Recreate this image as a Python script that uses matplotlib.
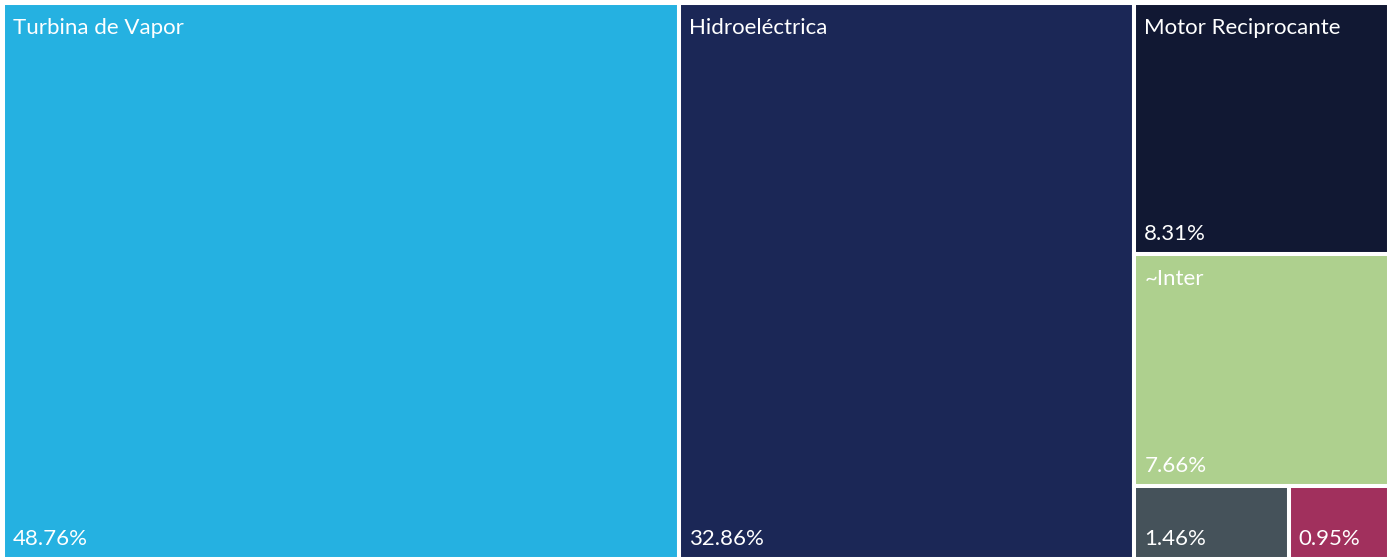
import matplotlib

matplotlib.use("Agg")

import matplotlib.pyplot as plt
from matplotlib.patches import Rectangle


LABELS = [
    "Turbina de Vapor",
    "Hidroeléctrica",
    "Motor Reciprocante",
    "~Inter",
    "",
    "",
]
SHARES = [48.76, 32.86, 8.31, 7.66, 1.46, 0.95]
COLORS = ["#25b1e1", "#1b2756", "#111833", "#aed08e", "#45525a", "#a1305d"]

FIG_W, FIG_H = 1390, 559
DPI = 100


def worst(row, side):
    total = sum(row)
    return max(max(side * side * a / (total * total), total * total / (side * side * a)) for a in row)


def layout_row(row, x, y, w, h):
    total = sum(row)
    rects = []
    if w >= h:
        # column on the left, stacked top to bottom
        cw = total / h
        cy = y + h
        for a in row:
            rh = a / cw
            cy -= rh
            rects.append((x, cy, cw, rh))
        return rects, (x + cw, y, w - cw, h)
    # row along the top, left to right
    rh = total / w
    cx = x
    for a in row:
        rw = a / rh
        rects.append((cx, y + h - rh, rw, rh))
        cx += rw
    return rects, (x, y, w, h - rh)


def squarify(values, x, y, w, h):
    scale = w * h / sum(values)
    areas = [v * scale for v in values]
    rects = []
    row = []
    rest = (x, y, w, h)
    i = 0
    while i < len(areas):
        side = min(rest[2], rest[3])
        a = areas[i]
        if not row or worst(row + [a], side) <= worst(row, side):
            row.append(a)
            i += 1
        else:
            out, rest = layout_row(row, *rest)
            rects += out
            row = []
    if row:
        out, rest = layout_row(row, *rest)
        rects += out
    return rects


def main() -> None:
    fig = plt.figure(figsize=(FIG_W / DPI, FIG_H / DPI), dpi=DPI)
    ax = fig.add_axes([3 / FIG_W, 0, 1386 / FIG_W, 556 / FIG_H])
    W, H = 1386.0, 556.0
    ax.set_xlim(0, W)
    ax.set_ylim(0, H)
    ax.axis("off")

    for (x, y, w, h), label, share, color in zip(
        squarify(SHARES, 0, 0, W, H), LABELS, SHARES, COLORS
    ):
        ax.add_patch(
            Rectangle(
                (x, y), w, h,
                facecolor=color, edgecolor="white", linewidth=2.9, clip_on=False,
            )
        )
        if label:
            ax.text(x + 10, y + h - 31, label, color="white", fontsize=16,
                    family="Lato", va="baseline", ha="left")
        ax.text(x + 10, y + 14, f"{share:.2f}%", color="white", fontsize=16,
                family="Lato", va="baseline", ha="left")

    fig.savefig("out.png", dpi=DPI)
    plt.close(fig)


if __name__ == "__main__":
    main()
